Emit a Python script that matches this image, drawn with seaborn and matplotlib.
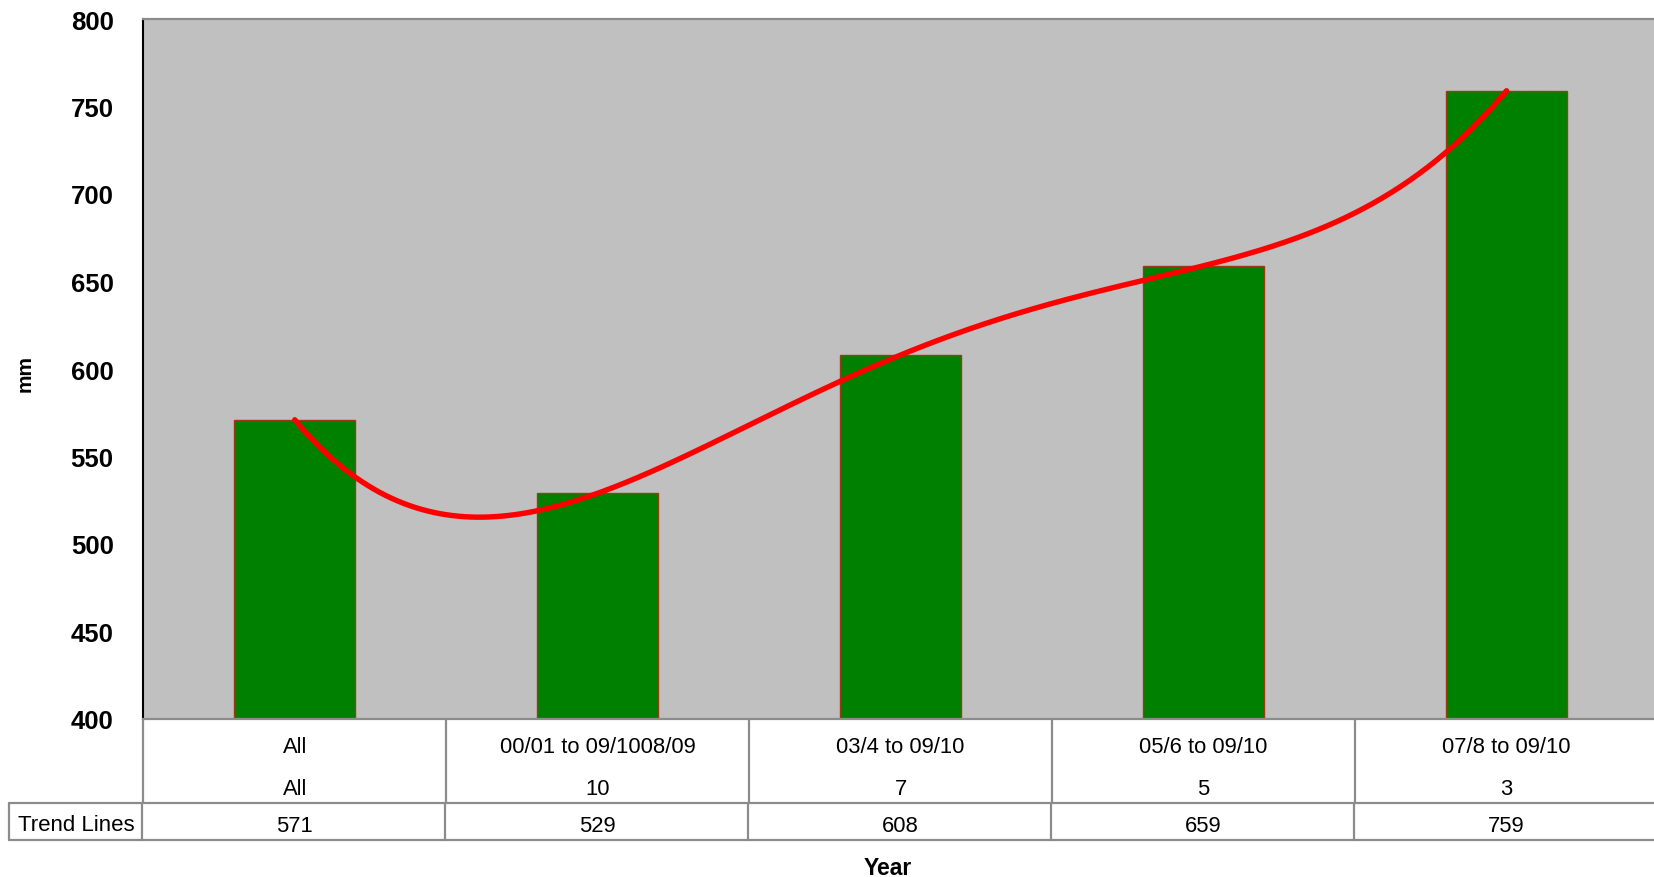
import numpy as np
import pandas as pd
import seaborn as sns
import matplotlib
matplotlib.use("Agg")
import matplotlib.pyplot as plt
from matplotlib.lines import Line2D
from matplotlib.transforms import blended_transform_factory

# Rainfall by period
periods = ["All", "00/01 to 09/1008/09", "03/4 to 09/10", "05/6 to 09/10", "07/8 to 09/10"]
years = ["All", "10", "7", "5", "3"]
rainfall = [571, 529, 608, 659, 759]
row_header = "Trend Lines"
y_ticks = [400, 450, 500, 550, 600, 650, 700, 750, 800]

sns.set_theme(style="white")
plt.rcParams["font.family"] = ["Liberation Sans", "DejaVu Sans"]

W, H = 1654, 878
fig = plt.figure(figsize=(W / 100, H / 100), dpi=100)
fig.patch.set_facecolor("white")


def fx(px):
    return px / W


def fy(py):
    return 1 - py / H


ax = fig.add_axes([fx(143.3), fy(720), fx(1658) - fx(143.3), fy(20) - fy(720)])
ax.set_facecolor("#C0C0C0")

df = pd.DataFrame({"period": periods, "mm": rainfall})
sns.barplot(data=df, x="period", y="mm", color="#008000", saturation=1,
            width=0.40, edgecolor="#9A3B12", linewidth=1.0, ax=ax, zorder=2)

# 4th-order polynomial trend line through the period values
xi = np.arange(len(rainfall))
coeffs = np.polyfit(xi, rainfall, 4)
xs = np.linspace(0, len(rainfall) - 1, 400)
ax.plot(xs, np.polyval(coeffs, xs), color="#FF0000", lw=3.9,
        solid_capstyle="round", zorder=3)

ax.set_xlim(-0.5, len(periods) - 0.5)
ax.set_ylim(400, 800)
ax.set_xticks([])
ax.set_xlabel("")
ax.set_ylabel("")
ax.set_yticks(y_ticks, [str(t) for t in y_ticks], fontweight="bold")
ax.tick_params(axis="y", direction="inout", length=10.8, width=1.4,
               color="black", labelsize=18.5, pad=16, labelcolor="black")

for side in ["top", "bottom"]:
    ax.spines[side].set_color("#8C8C8C")
    ax.spines[side].set_linewidth(1.6)
ax.spines["right"].set_visible(False)
ax.spines["left"].set_color("black")
ax.spines["left"].set_linewidth(1.5)

# Data table underneath the bars
grid = "#8C8C8C"
tr = blended_transform_factory(ax.transData, fig.transFigure)
y_top, y_mid, y_bot = 720, 804.3, 840.7

fig.add_artist(Line2D([fx(9), 1], [fy(y_mid)] * 2, transform=fig.transFigure,
                      color=grid, lw=1.6))
fig.add_artist(Line2D([fx(9), 1], [fy(y_bot)] * 2, transform=fig.transFigure,
                      color=grid, lw=1.6))
fig.add_artist(Line2D([fx(9), fx(9)], [fy(y_mid), fy(y_bot)],
                      transform=fig.transFigure, color=grid, lw=1.6))
for i in range(len(periods)):
    xb = i - 0.5
    fig.add_artist(Line2D([xb, xb], [fy(y_top), fy(y_mid)], transform=tr,
                          color=grid, lw=1.6))
    fig.add_artist(Line2D([xb - 0.005, xb - 0.005], [fy(y_mid), fy(y_bot)],
                          transform=tr, color=grid, lw=1.6))

for i, (p, n, v) in enumerate(zip(periods, years, rainfall)):
    fig.text(i, fy(747.5), p, transform=tr, ha="center", va="center",
             fontsize=15.8, color="black")
    fig.text(i, fy(789.5), n, transform=tr, ha="center", va="center",
             fontsize=15.8, color="black")
    fig.text(i, fy(826.5), str(v), transform=tr, ha="center", va="center",
             fontsize=15.8, color="black")

fig.text(fx(76), fy(825.5), row_header, ha="center", va="center",
         fontsize=16, color="black")

fig.text(fx(25), fy(374), "mm", rotation=90, ha="center", va="center",
         fontsize=15, fontweight="bold", color="black")
fig.text(fx(888), fy(868.5), "Year", ha="center", va="center",
         fontsize=16.5, fontweight="bold", color="black")

fig.savefig("out.png", dpi=100, facecolor="white")
